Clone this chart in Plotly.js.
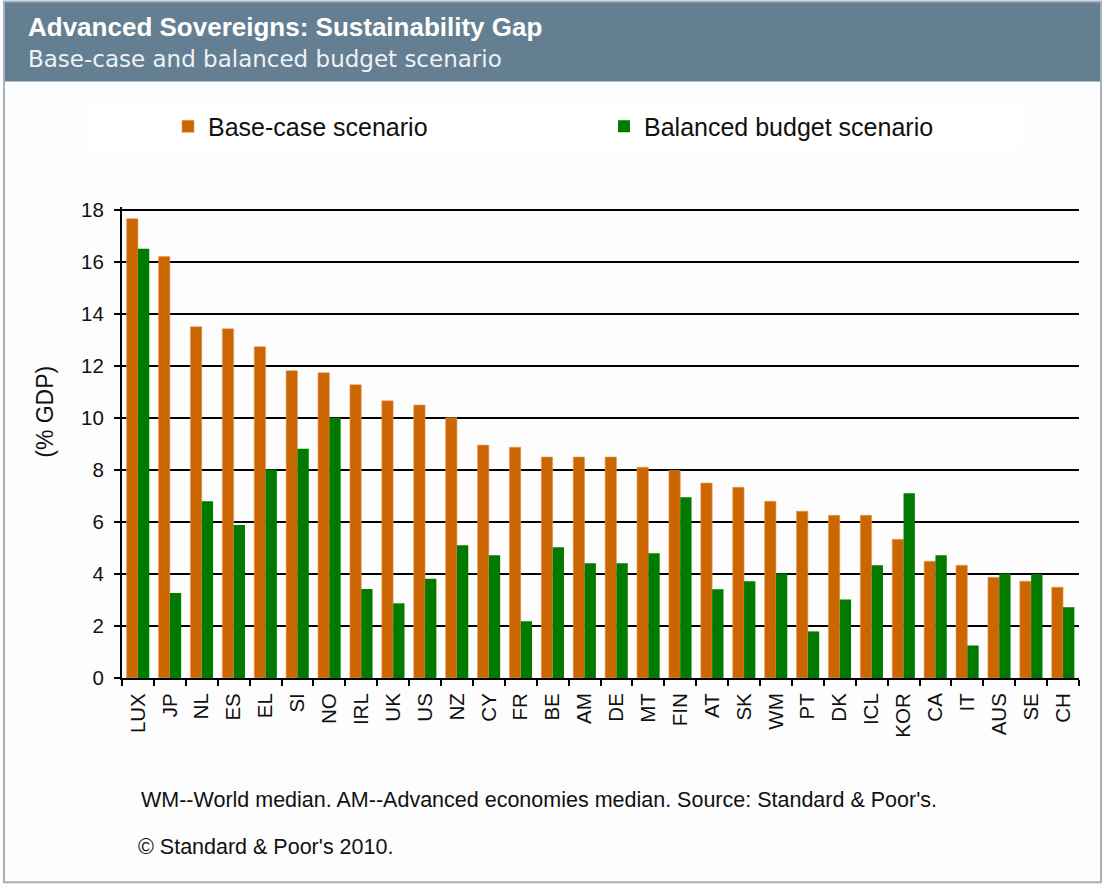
<!DOCTYPE html>
<html>
<head>
<meta charset="utf-8">
<script src="https://cdn.plot.ly/plotly-3.0.1.min.js"></script>
<style>
html,body{margin:0;padding:0;background:#fdfdfd;}
#chart{width:1103px;height:884px;}
</style>
</head>
<body>
<div id="chart"></div>
<script>
var categories = ["LUX","JP","NL","ES","EL","SI","NO","IRL","UK","US","NZ","CY","FR","BE","AM","DE","MT","FIN","AT","SK","WM","PT","DK","ICL","KOR","CA","IT","AUS","SE","CH"];
var baseCase = [17.65,16.2,13.5,13.42,12.73,11.81,11.73,11.27,10.65,10.49,10.0,8.95,8.87,8.49,8.49,8.49,8.1,7.97,7.49,7.33,6.79,6.41,6.25,6.25,5.33,4.49,4.33,3.87,3.72,3.49];
var balancedBudget = [16.5,3.27,6.79,5.88,8.01,8.81,10.0,3.42,2.87,3.81,5.1,4.72,2.18,5.02,4.41,4.41,4.79,6.95,3.41,3.72,4.02,1.79,3.02,4.33,7.1,4.72,1.25,4.02,4.0,2.72];
var seriesNames = ["Base-case scenario","Balanced budget scenario"];
var titleText = "Advanced Sovereigns: Sustainability Gap";
var subtitleText = "Base-case and balanced budget scenario";
var yTitle = "(% GDP)";
var footnote1 = "WM--World median. AM--Advanced economies median. Source: Standard & Poor's.";
var footnote2 = "\u00A9 Standard & Poor's 2010.";
var yTicks = [0,2,4,6,8,10,12,14,16,18];

// plot area in pixels (top extended slightly so the 18 gridline is drawn)
var L = 122, R = 1079, T = 207.4, B = 678;
function px(x){ return (x - L) / (R - L); }
function py(y){ return (B - y) / (B - T); }

var traces = [
  {type:'bar', name:seriesNames[0], x:categories, y:baseCase,
   marker:{color:'#cc6600', line:{color:'#e39a5a', width:0.6}}},
  {type:'bar', name:seriesNames[1], x:categories, y:balancedBudget,
   marker:{color:'#007a00', line:{width:0}}}
];

var fontMain = 'Liberation Sans, Arial, sans-serif';

var layout = {
  width:1103, height:884,
  margin:{l:L, r:1103-R, t:T, b:884-B, pad:0},
  paper_bgcolor:'#fdfdfd', plot_bgcolor:'rgba(0,0,0,0)',
  barmode:'group', bargap:0.29, bargroupgap:0,
  font:{family:fontMain, color:'#111'},
  title:{text:'<b>'+titleText+'</b>', x:28/1103, xanchor:'left', xref:'container',
         y:1-27/884, yanchor:'middle', yref:'container',
         font:{family:fontMain, size:26, color:'#ffffff'}},
  showlegend:true,
  legend:{orientation:'h', x:px(168), xanchor:'left', y:py(127), yanchor:'middle',
          bgcolor:'rgba(0,0,0,0)', borderwidth:0, entrywidth:391, entrywidthmode:'pixels',
          font:{family:fontMain, size:25, color:'#111'}, traceorder:'normal'},
  xaxis:{type:'category', showline:true, linecolor:'#000', linewidth:2,
         ticks:'outside', tickson:'boundaries', ticklen:6, tickwidth:2, tickcolor:'#000',
         tickangle:-90, tickfont:{family:fontMain, size:20.5, color:'#111'},
         showgrid:false, zeroline:false, automargin:false, ticklabelstandoff:5},
  yaxis:{range:[0,18.1], tickvals:yTicks, showline:true, linecolor:'#000', linewidth:2,
         ticks:'outside', ticklen:6, tickwidth:2, tickcolor:'#000',
         showgrid:true, gridcolor:'#000', gridwidth:2, zeroline:false,
         tickfont:{family:fontMain, size:20.5, color:'#111'}, ticklabelstandoff:6,
         automargin:false},
  shapes:[
    {type:'rect', xref:'paper', yref:'paper', x0:px(4), x1:px(1101), y0:py(82), y1:py(2),
     fillcolor:'#647f91', line:{width:0}, layer:'below'},
    {type:'rect', xref:'paper', yref:'paper', x0:px(4), x1:px(1101), y0:py(882), y1:py(2),
     fillcolor:'rgba(0,0,0,0)', line:{color:'#a3b2bd', width:2}, layer:'below'},
    {type:'rect', xref:'paper', yref:'paper', x0:px(87), x1:px(1022), y0:py(150), y1:py(104),
     fillcolor:'#ffffff', line:{width:0}, layer:'below'}
  ],
  annotations:[
    {text:subtitleText, xref:'paper', yref:'paper', x:px(26), y:py(60), xanchor:'left', yanchor:'middle',
     showarrow:false, font:{family:'DejaVu Sans, sans-serif', size:23, color:'#eef2f5'}},
    {text:yTitle, xref:'paper', yref:'paper', x:px(45), y:py(412), xanchor:'center', yanchor:'middle',
     textangle:-90, showarrow:false, font:{family:fontMain, size:23, color:'#111'}},
    {text:footnote1, xref:'paper', yref:'paper', x:px(139), y:py(800), xanchor:'left', yanchor:'middle',
     showarrow:false, font:{family:fontMain, size:21.5, color:'#111'}},
    {text:footnote2, xref:'paper', yref:'paper', x:px(136), y:py(847), xanchor:'left', yanchor:'middle',
     showarrow:false, font:{family:fontMain, size:21.5, color:'#111'}}
  ]
};

Plotly.newPlot('chart', traces, layout, {displayModeBar:false, staticPlot:true});
</script>
</body>
</html>
